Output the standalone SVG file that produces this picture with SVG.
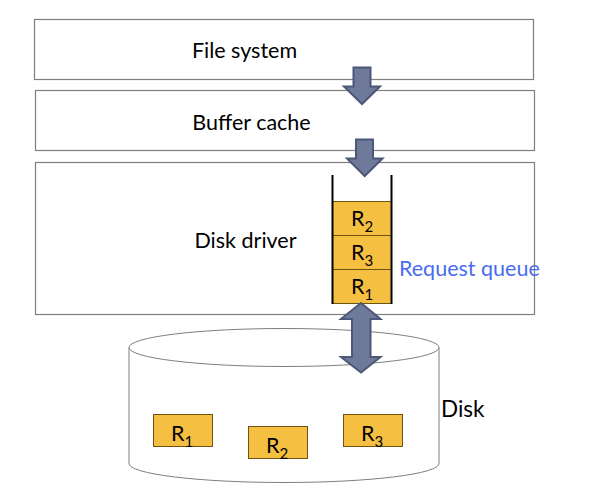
<svg xmlns="http://www.w3.org/2000/svg" width="610" height="498" viewBox="0 0 610 498">
<style>
.box{fill:#fff;stroke:#7f7f7f;stroke-width:1.2}
.t{font-family:Lato,"Open Sans","Liberation Sans",sans-serif;font-size:21.5px;fill:#000}
.rq{fill:#f5c042;stroke:#6e5412;stroke-width:1}
.arr{fill:#6f7a9b;stroke:#4d5776;stroke-width:2;stroke-linejoin:miter}
.cyl{fill:#fff;stroke:#7f7f7f;stroke-width:1}
.sub{font-size:15px}
</style>
<rect width="610" height="498" fill="#fff"/>
<g id="file-system">
<rect class="box" x="34.5" y="19.5" width="499" height="60"/>
<text class="t" x="244.5" y="58" text-anchor="middle">File system</text>
</g>
<g id="buffer-cache">
<rect class="box" x="35.5" y="90.5" width="499" height="60"/>
<text class="t" x="251.5" y="130" text-anchor="middle">Buffer cache</text>
</g>
<g id="disk-driver">
<rect class="box" x="35.5" y="162.5" width="499" height="152"/>
<text class="t" x="245.5" y="248" text-anchor="middle">Disk driver</text>
</g>
<g id="request-queue">
<rect class="rq" x="332.5" y="201.5" width="59" height="34"/>
<rect class="rq" x="332.5" y="235.5" width="59" height="34"/>
<rect class="rq" x="332.5" y="269.5" width="59" height="34"/>
<line x1="332.5" y1="175" x2="332.5" y2="304" stroke="#000" stroke-width="2"/>
<line x1="391.5" y1="175" x2="391.5" y2="304" stroke="#000" stroke-width="2"/>
<text class="t" x="351" y="226">R<tspan class="sub" dy="6">2</tspan></text>
<text class="t" x="351" y="260">R<tspan class="sub" dy="6">3</tspan></text>
<text class="t" x="351" y="294">R<tspan class="sub" dy="6">1</tspan></text>
<text class="t" x="399" y="276" style="fill:#4a6cf0">Request queue</text>
</g>
<g id="disk">
<path class="cyl" d="M129,347.5 L129,463.5 A155,19 0 0 0 439,463.5 L439,347.5"/>
<ellipse class="cyl" cx="284" cy="347.5" rx="155" ry="19"/>
<rect class="rq" x="153.5" y="414.5" width="59" height="32"/>
<rect class="rq" x="248.5" y="426.5" width="59" height="32"/>
<rect class="rq" x="343.5" y="414.5" width="59" height="32"/>
<text class="t" x="171" y="441">R<tspan class="sub" dy="6">1</tspan></text>
<text class="t" x="266" y="453">R<tspan class="sub" dy="6">2</tspan></text>
<text class="t" x="361" y="441">R<tspan class="sub" dy="6">3</tspan></text>
<text class="t" x="441" y="417" style="font-size:22.5px">Disk</text>
</g>
<g id="connectors">
<path class="arr" d="M353.5,67.5 H370.5 V86.5 H380 L362,104 L344,86.5 H353.5 Z"/>
<path class="arr" d="M356,139.5 H373 V158.5 H382.5 L364.7,176 L347,158.5 H356 Z"/>
<path class="arr" d="M361,303 L380.5,319 H370.5 V357 H380.5 L361,372.5 L341,357 H352 V319 H341 Z"/>
</g>
</svg>
